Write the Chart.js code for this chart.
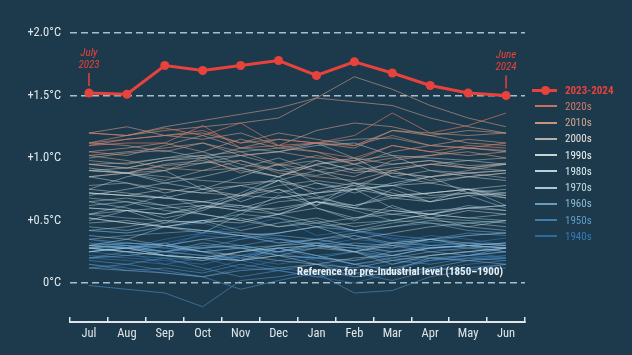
<!DOCTYPE html>
<html>
<head>
<meta charset="utf-8">
<script src="https://cdn.jsdelivr.net/npm/chart.js@4/dist/chart.umd.min.js"></script>
<style>
  html, body { margin: 0; padding: 0; background: #1c3a4b; }
  #wrap { position: relative; width: 632px; height: 355px; overflow: hidden; }
  #legend { position: absolute; left: 532px; top: 82px; font-family: "Roboto Condensed", "Liberation Sans Narrow", "DejaVu Sans Condensed", sans-serif; font-size: 11px; }
  .item { position: relative; height: 16.25px; display: flex; align-items: center; }
  .sw { position: relative; width: 25px; margin-right: 8px; }
  .sw .ln { position: absolute; left: 3px; right: 0; top: -1px; height: 2px; }
  .sw.main .ln { left: 0; top: -1.5px; height: 3px; }
  .sw.main .dot { position: absolute; left: 9px; top: -4.5px; width: 9px; height: 9px; border-radius: 50%; }
</style>
</head>
<body>
<div id="wrap">
  <canvas id="c" width="632" height="355"></canvas>
  <div id="legend"></div>
</div>
<script>
// ---------------- DATA ----------------
const months = ['Jul','Aug','Sep','Oct','Nov','Dec','Jan','Feb','Mar','Apr','May','Jun'];
const yTicks = [0, 0.5, 1.0, 1.5, 2.0];
const yTickLabels = ['0°C', '+0.5°C', '+1.0°C', '+1.5°C', '+2.0°C'];
const dashedAt = [0, 1.5, 2.0];

const mainLabel = '2023-2024';
const series2023_24 = [1.52, 1.51, 1.74, 1.70, 1.74, 1.78, 1.66, 1.77, 1.68, 1.58, 1.52, 1.50];

const annotations = [
  { index: 0, text: ['July', '2023'] },
  { index: 11, text: ['June', '2024'] }
];
const refText = 'Reference for pre-industrial level (1850\u20131900)';

const decades = ['2020s','2010s','2000s','1990s','1980s','1970s','1960s','1950s','1940s'];

// each row = one July–June year, anomaly vs 1850–1900 (°C)
const y1940s = [
  [0.30,0.28,0.32,0.38,0.35,0.40,0.45,0.42,0.36,0.33,0.30,0.28],
  [0.35,0.30,0.28,0.40,0.45,0.52,0.38,0.42,0.35,0.30,0.32,0.36],
  [0.25,0.22,0.20,0.18,0.22,0.28,0.20,0.15,0.18,0.22,0.25,0.28],
  [0.30,0.28,0.35,0.40,0.38,0.32,0.35,0.30,0.28,0.33,0.38,0.40],
  [0.42,0.40,0.45,0.48,0.40,0.36,0.30,0.35,0.32,0.38,0.35,0.30],
  [0.28,0.25,0.15,0.20,0.12,0.18,0.22,0.25,0.20,0.18,0.22,0.20],
  [0.22,0.20,0.18,0.15,0.22,0.25,0.18,0.10,0.15,0.20,0.18,0.22],
  [0.25,0.30,0.22,0.28,0.20,0.15,0.20,0.18,0.22,0.28,0.25,0.20],
  [0.20,0.18,0.15,0.10,0.18,0.12,0.08,0.15,0.10,0.18,0.20,0.22],
  [0.15,0.12,0.08,0.05,0.12,0.10,0.05,0.00,0.08,0.10,0.15,0.18]
];
const y1950s = [
  [0.18,0.15,0.20,0.12,0.05,0.10,0.15,0.08,0.12,0.18,0.22,0.25],
  [0.28,0.32,0.30,0.35,0.30,0.25,0.30,0.28,0.25,0.30,0.32,0.30],
  [0.30,0.28,0.25,0.22,0.18,0.25,0.30,0.28,0.32,0.35,0.30,0.28],
  [0.32,0.30,0.28,0.25,0.28,0.22,0.20,0.25,0.18,0.15,0.20,0.18],
  [0.15,0.10,0.12,0.08,0.15,0.10,0.05,0.08,0.02,0.10,0.12,0.15],
  [0.12,0.15,0.10,0.05,-0.05,0.02,0.08,-0.08,-0.06,0.05,0.10,0.12],
  [-0.02,-0.05,-0.08,-0.19,0.02,0.05,0.10,0.05,0.08,0.12,0.10,0.15],
  [0.20,0.25,0.30,0.28,0.35,0.40,0.45,0.42,0.38,0.35,0.40,0.38],
  [0.35,0.32,0.30,0.28,0.30,0.35,0.32,0.38,0.30,0.28,0.30,0.32],
  [0.28,0.30,0.25,0.22,0.20,0.28,0.30,0.25,0.22,0.28,0.30,0.25]
];
const y1960s = [
  [0.25,0.28,0.30,0.25,0.18,0.28,0.22,0.15,0.10,0.20,0.22,0.25],
  [0.28,0.30,0.25,0.30,0.28,0.25,0.32,0.30,0.28,0.35,0.30,0.32],
  [0.30,0.28,0.32,0.25,0.28,0.30,0.35,0.30,0.25,0.28,0.30,0.28],
  [0.35,0.38,0.40,0.42,0.38,0.35,0.30,0.28,0.22,0.20,0.18,0.15],
  [0.12,0.10,0.08,0.05,0.10,0.12,0.15,0.05,0.08,0.12,0.18,0.20],
  [0.20,0.22,0.25,0.28,0.30,0.25,0.28,0.32,0.30,0.25,0.22,0.28],
  [0.28,0.25,0.22,0.20,0.25,0.28,0.22,0.15,0.20,0.25,0.28,0.30],
  [0.30,0.28,0.25,0.32,0.28,0.22,0.20,0.18,0.25,0.28,0.30,0.32],
  [0.30,0.32,0.30,0.35,0.38,0.32,0.35,0.40,0.45,0.48,0.42,0.40],
  [0.42,0.40,0.45,0.42,0.40,0.38,0.35,0.38,0.32,0.30,0.28,0.25]
];
const y1970s = [
  [0.28,0.25,0.22,0.20,0.18,0.22,0.15,0.12,0.18,0.22,0.25,0.28],
  [0.25,0.28,0.22,0.20,0.25,0.28,0.30,0.25,0.32,0.35,0.38,0.40],
  [0.42,0.45,0.50,0.48,0.58,0.55,0.65,0.58,0.50,0.48,0.45,0.42],
  [0.38,0.35,0.30,0.25,0.22,0.18,0.15,0.20,0.22,0.28,0.30,0.28],
  [0.25,0.28,0.22,0.18,0.25,0.30,0.32,0.25,0.30,0.35,0.32,0.30],
  [0.28,0.25,0.22,0.20,0.18,0.22,0.28,0.25,0.15,0.22,0.25,0.28],
  [0.30,0.35,0.45,0.40,0.55,0.70,0.62,0.75,0.60,0.55,0.62,0.58],
  [0.55,0.52,0.50,0.48,0.52,0.45,0.50,0.42,0.48,0.52,0.50,0.48],
  [0.45,0.42,0.48,0.50,0.55,0.52,0.45,0.48,0.50,0.55,0.52,0.50],
  [0.55,0.62,0.70,0.60,0.72,0.85,0.70,0.60,0.75,0.65,0.70,0.60]
];
const y1980s = [
  [0.60,0.58,0.55,0.60,0.62,0.55,0.65,0.60,0.58,0.55,0.60,0.62],
  [0.65,0.60,0.52,0.58,0.70,0.82,0.60,0.50,0.62,0.52,0.45,0.50],
  [0.50,0.58,0.48,0.60,0.68,0.82,0.90,0.80,0.72,0.65,0.75,0.62],
  [0.62,0.65,0.58,0.55,0.50,0.45,0.48,0.42,0.45,0.50,0.48,0.45],
  [0.48,0.50,0.45,0.42,0.38,0.40,0.45,0.35,0.40,0.45,0.48,0.50],
  [0.52,0.48,0.45,0.50,0.42,0.48,0.52,0.45,0.50,0.55,0.52,0.55],
  [0.55,0.58,0.60,0.62,0.58,0.65,0.68,0.62,0.70,0.72,0.75,0.72],
  [0.75,0.85,0.90,0.75,0.85,0.95,0.80,0.72,0.80,0.85,0.72,0.68],
  [0.68,0.65,0.62,0.55,0.50,0.55,0.48,0.52,0.55,0.58,0.60,0.62],
  [0.65,0.68,0.62,0.65,0.60,0.68,0.72,0.75,0.78,0.70,0.72,0.75]
];
const y1990s = [
  [0.72,0.70,0.68,0.75,0.78,0.72,0.80,0.75,0.70,0.72,0.75,0.70],
  [0.75,0.72,0.68,0.65,0.62,0.58,0.65,0.60,0.55,0.52,0.58,0.55],
  [0.52,0.48,0.45,0.50,0.48,0.55,0.60,0.52,0.58,0.55,0.60,0.58],
  [0.60,0.58,0.55,0.62,0.58,0.60,0.65,0.62,0.68,0.65,0.70,0.72],
  [0.70,0.75,0.80,0.85,0.92,0.85,0.95,1.00,0.85,0.80,0.85,0.82],
  [0.85,0.80,0.72,0.78,0.65,0.75,0.62,0.80,0.68,0.72,0.75,0.68],
  [0.72,0.70,0.75,0.72,0.78,0.82,0.75,0.80,0.78,0.85,0.88,0.90],
  [0.90,0.92,0.98,1.00,1.02,1.05,1.10,1.12,1.02,1.00,0.98,0.95],
  [0.92,0.88,0.80,0.75,0.70,0.68,0.72,0.78,0.70,0.68,0.72,0.70],
  [0.72,0.70,0.68,0.65,0.70,0.75,0.68,0.75,0.78,0.80,0.75,0.78]
];
const y2000s = [
  [0.78,0.80,0.75,0.72,0.70,0.78,0.82,0.78,0.88,0.85,0.88,0.84],
  [0.85,0.88,0.82,0.90,0.92,0.85,0.95,0.98,1.02,0.90,0.88,0.90],
  [0.90,0.88,0.95,0.98,0.90,0.85,0.98,0.90,0.88,0.85,0.90,0.95],
  [0.95,0.96,1.00,1.02,0.92,1.00,0.90,0.95,0.85,0.90,0.85,0.88],
  [0.85,0.88,0.90,0.96,1.02,0.94,0.98,0.90,0.95,0.98,0.94,0.95],
  [0.98,0.95,1.00,1.05,0.95,0.90,0.86,0.92,0.90,0.95,0.92,0.96],
  [0.95,0.92,0.98,1.02,1.05,1.08,1.12,1.00,0.95,0.98,0.92,0.90],
  [0.90,0.88,0.85,0.82,0.80,0.82,0.72,0.75,0.90,0.82,0.85,0.88],
  [0.90,0.88,0.94,0.96,0.98,0.90,0.94,0.88,0.92,0.95,0.98,1.00],
  [1.00,1.04,1.06,1.00,1.08,1.05,1.12,1.15,1.16,1.10,1.08,1.06]
];
const y2010s = [
  [1.02,0.98,0.92,0.90,0.98,0.88,0.85,0.82,0.90,0.95,0.92,0.95],
  [0.95,0.92,0.90,1.00,0.88,0.95,0.90,0.85,0.98,1.02,1.05,1.00],
  [1.02,1.05,1.08,1.12,1.05,0.95,1.02,0.95,1.00,1.02,1.08,1.05],
  [1.05,1.08,1.12,1.05,1.15,1.08,1.05,0.95,1.05,1.10,1.15,1.12],
  [1.10,1.15,1.18,1.20,1.12,1.20,1.15,1.10,1.22,1.18,1.22,1.20],
  [1.12,1.18,1.25,1.30,1.35,1.40,1.48,1.65,1.55,1.42,1.32,1.25],
  [1.20,1.25,1.18,1.15,1.20,1.10,1.22,1.28,1.25,1.18,1.12,1.10],
  [1.12,1.10,1.05,1.12,1.02,1.05,1.00,0.98,1.10,1.05,1.02,1.05],
  [1.05,1.02,1.10,1.18,1.08,1.15,1.12,1.08,1.22,1.20,1.18,1.20],
  [1.20,1.18,1.22,1.25,1.28,1.32,1.48,1.45,1.42,1.32,1.25,1.20]
];
const y2020s = [
  [1.20,1.18,1.24,1.18,1.28,1.10,1.05,1.00,1.10,1.05,1.10,1.08],
  [1.12,1.15,1.18,1.22,1.12,1.15,1.12,1.10,1.18,1.10,1.08,1.12],
  [1.10,1.12,1.12,1.26,1.08,1.10,1.12,1.18,1.36,1.20,1.26,1.36]
];
const decadeSeries = [y2020s, y2010s, y2000s, y1990s, y1980s, y1970s, y1960s, y1950s, y1940s];

// ---------------- STYLE ----------------
const FONT = '"Roboto Condensed", "Liberation Sans Narrow", "DejaVu Sans Condensed", sans-serif';
const RED = '#e8423d';
const decadeLineColors = ['rgba(214,120,100,0.85)','rgba(212,156,136,0.75)','rgba(196,188,184,0.65)','rgba(210,222,226,0.6)',
  'rgba(190,216,226,0.6)','rgba(168,202,218,0.6)','rgba(120,168,204,0.7)','rgba(78,138,190,0.8)','rgba(52,112,170,0.85)'];
const decadeSwatch = ['#c9705f','#c99382','#b8b0ad','#c8d3d6','#b9d3dd','#a9c8d6','#6d9dbd','#3f7fb0','#2b69a0'];
const decadeText = ['#d27a66','#d8a58f','#e8e2de','#eef2f3','#dcebf1','#c3dce6','#8cbad6','#5d9bc8','#3479b8'];

// ---------------- BUILD ----------------
const datasets = [{
  label: mainLabel,
  data: series2023_24,
  borderColor: RED, backgroundColor: RED,
  borderWidth: 3, pointRadius: 4.5, pointHoverRadius: 4.5,
  pointBackgroundColor: RED, pointBorderWidth: 0, tension: 0, order: 0
}];
for (let d = decadeSeries.length - 1; d >= 0; d--) {
  decadeSeries[d].forEach(row => {
    datasets.push({
      label: decades[d], data: row,
      borderColor: decadeLineColors[d], borderWidth: 0.8,
      pointRadius: 0, tension: 0, order: 1 + d
    });
  });
}

const annot = {
  id: 'annot',
  afterDatasetsDraw(chart) {
    const ctx = chart.ctx, ys = chart.scales.y, xs = chart.scales.x;
    ctx.save();
    ctx.font = 'bold 11px ' + FONT;
    ctx.fillStyle = '#e9eff2';
    ctx.textAlign = 'right'; ctx.textBaseline = 'middle';
    ctx.fillText(refText, xs.getPixelForValue(11) - 3, ys.getPixelForValue(0) - 11);
    const meta = chart.getDatasetMeta(0);
    annotations.forEach(a => {
      const p = meta.data[a.index];
      ctx.strokeStyle = RED; ctx.lineWidth = 1.5;
      ctx.beginPath(); ctx.moveTo(p.x, p.y - 20); ctx.lineTo(p.x, p.y - 7); ctx.stroke();
      ctx.fillStyle = RED; ctx.textAlign = 'center';
      ctx.font = 'italic 11px ' + FONT;
      ctx.fillText(a.text[0], p.x, p.y - 40);
      ctx.fillText(a.text[1], p.x, p.y - 28);
    });
    ctx.restore();
  }
};

new Chart(document.getElementById('c'), {
  type: 'line',
  data: { labels: months, datasets },
  options: {
    responsive: false, animation: false,
    layout: { padding: { left: 0, right: 107, top: 33, bottom: 0 } },
    plugins: { legend: { display: false }, tooltip: { enabled: false } },
    events: [],
    scales: {
      x: {
        offset: true,
        grid: { offset: true, drawOnChartArea: false, drawTicks: true, tickLength: -5, color: '#dfe6ea', lineWidth: 1.5 },
        border: { display: true, color: '#dfe6ea', width: 2 },
        ticks: { color: '#dfe6ea', font: { family: FONT, size: 12.5 }, padding: 9, maxRotation: 0, autoSkip: false },
        afterFit(s) { s.height = 33; }
      },
      y: {
        min: -0.312, max: 2.0,
        afterBuildTicks(s) { s.ticks = yTicks.map(v => ({ value: v })); },
        grid: {
          drawTicks: false, lineWidth: 1.5,
          color: c => dashedAt.includes(c.tick && c.tick.value) ? '#a3bfcc' : 'rgba(0,0,0,0)'
        },
        border: { display: false, dash: [7, 4] },
        ticks: {
          color: '#dfe6ea', font: { family: FONT, size: 12.5 }, padding: 9,
          callback: (v) => { const i = yTicks.indexOf(v); return i >= 0 ? yTickLabels[i] : ''; }
        },
        afterFit(s) { s.width = 70; }
      }
    }
  },
  plugins: [annot]
});

// HTML legend built from data arrays
const lg = document.getElementById('legend');
function addItem(text, color, swatchHtml, bold) {
  const it = document.createElement('div'); it.className = 'item';
  it.innerHTML = swatchHtml;
  const t = document.createElement('span'); t.textContent = text; t.style.color = color;
  if (bold) t.style.fontWeight = 'bold';
  it.appendChild(t); lg.appendChild(it);
}
addItem(mainLabel, RED, '<div class="sw main"><div class="ln" style="background:' + RED + '"></div><div class="dot" style="background:' + RED + '"></div></div>', true);
decades.forEach((d, i) => addItem(d, decadeText[i], '<div class="sw"><div class="ln" style="background:' + decadeSwatch[i] + '"></div></div>', false));
</script>
</body>
</html>
